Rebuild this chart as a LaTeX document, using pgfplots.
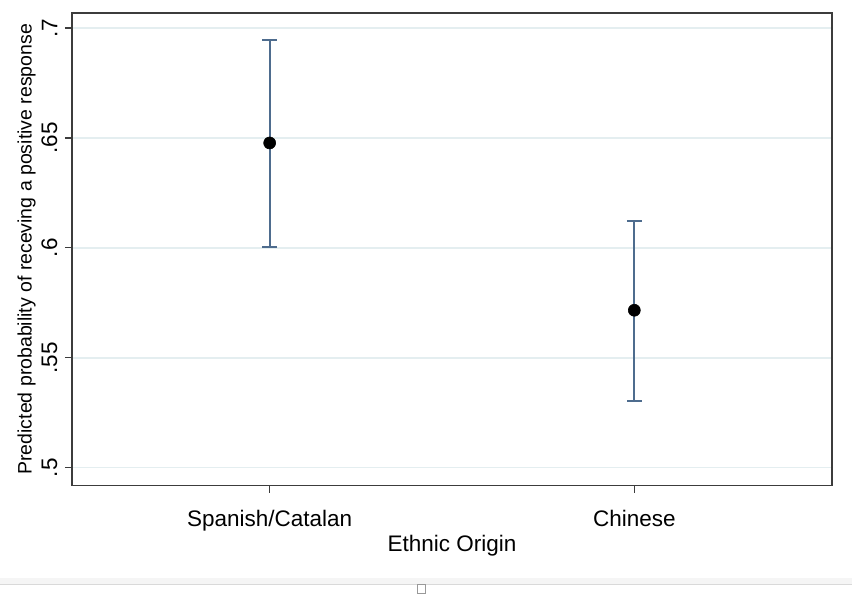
\documentclass[border=0pt]{standalone}
\usepackage{fontspec}
\setmainfont{Liberation Sans}
\usepackage{pgfplots}
\pgfplotsset{compat=1.18}
\definecolor{gridc}{RGB}{228,238,240}
\definecolor{barc}{RGB}{78,108,142}
\definecolor{axc}{RGB}{60,60,60}
\begin{document}
\begin{tikzpicture}
\begin{axis}[
  scale only axis,
  width=506.7pt, height=315.3pt,
  xmin=0.459, xmax=2.541,
  ymin=0.4919, ymax=0.7068,
  xtick={1,2}, xticklabels={Spanish/Catalan,Chinese},
  ytick={0.5,0.55,0.6,0.65,0.7}, yticklabels={.5,.55,.6,.65,.7},
  tick pos=left, tick align=outside,
  major tick length=5pt,
  tick style={axc, line width=0.8pt},
  axis line style={axc, line width=1.3pt},
  ymajorgrids, grid style={gridc, line width=1pt},
  /pgf/number format/assume math mode=true,
  ticklabel style={font=\fontsize{15}{17}\selectfont},
  yticklabel style={rotate=90, anchor=south, yshift=1.5pt},
  xticklabel style={anchor=north, yshift=-8pt},
  label style={font=\fontsize{15}{17}\selectfont},
  xlabel={Ethnic Origin},
  xlabel style={at={(axis description cs:0.5,0)}, anchor=center, yshift=-40pt},
  ylabel={Predicted probability of receving a positive response},
  ylabel style={at={(axis description cs:0,0.5)}, anchor=center, rotate=0, yshift=30.5pt, font=\fontsize{13}{15}\selectfont},
]
\addplot[only marks, mark=*, mark size=4pt, mark options={black, fill=black},
  error bars/.cd, y dir=both, y explicit,
  error bar style={barc, line width=1.5pt},
  error mark options={barc, rotate=90, mark size=5pt, line width=1.5pt}]
  coordinates {
    (1,0.6477) += (0,0.0469) -= (0,0.0472)
    (2,0.5716) += (0,0.0406) -= (0,0.0414)
  };
\end{axis}
\fill[black!4] (-48pt,-66pt) rectangle (520pt,-62pt);
\draw[black!15, line width=0.6pt] (-48pt,-66pt) -- (520pt,-66pt);
\draw[black!40, fill=white, line width=0.5pt] (230.5pt,-72pt) rectangle (235.5pt,-66pt);
\path[use as bounding box] (-48pt,-72pt) rectangle (520pt,324pt);
\end{tikzpicture}
\end{document}
